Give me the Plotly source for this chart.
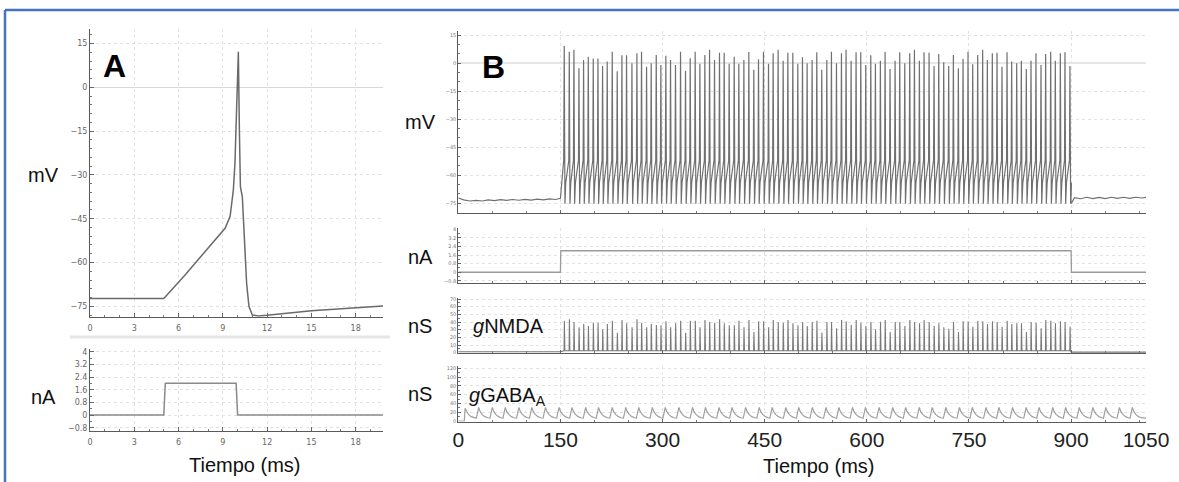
import plotly.graph_objects as go

W, H = 1179, 482

# ---------------- Panel A data ----------------
a_t = [0, 5.0, 6.5, 7.5, 8.5, 9.15, 9.49, 9.71, 9.82, 9.94, 10.05, 10.12, 10.19,
       10.32, 10.5, 10.61, 10.77, 11.0, 11.4, 12.0, 15.0, 18.0, 19.85]
a_v = [-72.3, -72.3, -63.9, -58.0, -52.0, -48.3, -44.3, -35.2, -26.0, -3.2, 12.2, -14.6,
       -34.0, -37.5, -53.4, -67.1, -75.1, -78.0, -78.3, -78.1, -76.5, -75.6, -74.9]
a_i_t = [0, 5.0, 5.1, 9.9, 10.0, 19.85]
a_i = [0, 0, 2, 2, 0, 0]

# ---------------- Panel B data ----------------
pre_t = [0, 8, 17, 26, 35, 44, 53, 62, 71, 80, 89, 98, 107, 116, 125, 134, 143, 150, 154.8]
pre_v = [-72.2, -73.2, -73.8, -73.5, -73.8, -73.2, -73.6, -73.1, -73.5, -73.0, -73.4,
         -72.9, -73.3, -72.8, -73.2, -72.7, -73.0, -72.4, -52.0]

spike_t = [155.6, 163.0, 169.8, 177.2, 184.0, 190.9, 198.2, 205.1, 211.9, 218.7,
           226.1, 233.4, 240.3, 247.1, 255.0, 262.3, 269.1, 276.5, 283.3, 290.7,
           297.5, 304.8, 311.7, 319.0, 326.4, 333.7, 340.6, 347.9, 354.8, 362.1,
           369.0, 376.3, 383.6, 390.5, 397.8, 405.2, 412.0, 419.4, 426.7, 434.0,
           440.9, 448.2, 455.6, 462.4, 469.7, 477.1, 484.0, 491.3, 498.6,
           505.5, 512.3, 519.6, 526.5, 533.8, 541.2, 548.0, 555.4, 562.7, 569.5,
           576.9, 584.2, 591.1, 598.4, 605.8, 612.6, 619.9, 626.8, 634.1, 641.5,
           648.3, 655.7, 663.0, 669.9, 677.2, 684.0, 691.4, 698.7, 705.6, 712.9,
           720.2, 727.1, 734.4, 741.3, 748.6, 755.5, 762.8, 770.1, 777.0, 784.3,
           791.2, 798.5, 805.9, 812.7, 820.1, 826.9, 834.2, 841.1, 848.4, 855.8,
           862.6, 870.0, 876.8, 884.2, 891.0, 898.3]
spike_peak = [9.3, 6.2, 7.2, -2.7, 1.8, 3.5, 2.5, 2.5, -1.4, 0.9,
              6.2, -4.3, 4.3, 4.3, 0.0, 5.4, 6.2, -1.8, 0.0, 4.5,
              -0.9, 4.1, 1.8, -0.9, 6.2, -4.0, 2.7, 6.2, -0.3, 4.5,
              7.2, 1.8, 5.7, 5.7, -0.3, 3.5, -0.3, 1.8, 6.1, -3.5,
              2.1, 6.2, -0.3, 5.4, 7.2, 1.3, 5.7, 5.7, -0.3,
              3.2, 0.0, 1.8, 5.9, -3.5, 1.8, 6.2, 0.0, 5.4, 7.2,
              1.4, 5.9, 5.9, -0.9, 4.3, -0.3, 1.4, 6.2, -3.0, 1.4,
              5.9, 0.0, 5.4, 7.2, 1.4, 5.9, 5.7, -1.4, 5.0, 0.5,
              -1.4, 4.5, -2.7, 2.4, 6.2, -0.5, 4.5, 7.2, 1.8, 5.4,
              5.7, -1.8, 5.9, 0.9, 0.0, 1.3, -3.0, 1.3, 5.4, -0.9,
              5.0, 6.2, 1.4, 5.4, 5.9, -1.4]
spike_shape_dt = [-0.7, 0.0, 1.0, 2.2]          # threshold, peak, trough, AHP
spike_shape_v = [-52.0, None, -75.3, -64.0]

post_t = [899.6, 902, 905, 914, 923, 932, 941, 950, 959, 968, 977, 986, 995, 1004, 1010]
post_v = [-75.3, -74.0, -72.0, -72.6, -71.8, -72.5, -71.9, -72.5, -71.8, -72.4, -71.8,
          -72.4, -71.8, -72.2, -71.9]

b_i_t = [0, 150, 150.5, 900, 900.5, 1010]
b_i = [0, 0, 2, 2, 0, 0]

nmda_peak = [41.7, 43.5, 40.0, 33.0, 37.4, 34.8, 39.1, 39.1, 30.4, 37.4,
             41.7, 26.1, 42.6, 38.3, 33.0, 43.5, 39.1, 33.0, 37.4, 36.1,
             35.7, 40.9, 33.0, 38.3, 41.7, 26.1, 41.7, 41.7, 33.0, 42.6,
             40.0, 39.1, 43.5, 38.3, 35.7, 35.7, 41.7, 33.0, 42.6, 27.0,
             40.9, 40.9, 33.0, 42.6, 40.0, 39.1, 42.6, 38.3, 35.7,
             40.0, 34.8, 40.0, 41.7, 26.1, 40.0, 40.0, 31.7, 42.6, 40.9,
             36.5, 42.6, 39.1, 34.8, 40.0, 30.4, 40.4, 42.6, 27.0, 40.0,
             40.0, 34.8, 42.6, 40.0, 38.3, 42.6, 40.0, 34.8, 38.3, 33.0,
             31.3, 40.0, 27.0, 40.9, 40.9, 33.9, 41.7, 40.9, 37.4, 40.9,
             40.0, 33.9, 41.7, 37.4, 38.3, 38.3, 27.0, 40.0, 39.1, 31.7,
             42.6, 41.7, 38.3, 40.9, 40.0, 33.9]
nmda_pre_t = [0, 150]
nmda_pre_v = [1.2, 1.2]
nmda_base = 2.5
nmda_post_t = [899.5, 902, 1010]
nmda_post_v = [1.5, 0.8, 0.8]

gaba_t = [10, 30, 50, 69, 89, 108, 128, 148, 167, 187, 206, 226, 246, 265, 285, 304, 324,
          344, 363, 383, 402, 422, 442, 461, 481, 500, 520, 540, 559, 579, 598, 618, 638,
          657, 677, 696, 716, 736, 755, 775, 794, 814, 834, 853, 873, 892, 912, 932, 951,
          971, 990]
gaba_peak = [29, 31, 31, 31, 31, 31, 31, 31, 31, 31, 31, 31, 31, 31, 31, 31, 31,
             31, 31, 31, 31, 31, 31, 31, 31, 31, 31, 31, 31, 31, 31, 31, 31,
             31, 31, 31, 31, 31, 31, 31, 31, 31, 31, 31, 31, 31, 31, 31, 31,
             31, 31]
gaba_trough = 6.5
gaba_decay_dt = [2, 5, 9, 13]
gaba_decay_v = [22, 15, 10, 7.5]

b_tick_labels = ["0", "150", "300", "450", "600", "750", "900", "1050"]
b_tick_pos = [0, 150, 300, 450, 600, 750, 900, 1010]

# ---------------- build line vertices ----------------
bx, by = list(pre_t), list(pre_v)
for t, p in zip(spike_t, spike_peak):
    for dt, v in zip(spike_shape_dt, spike_shape_v):
        bx.append(t + dt)
        by.append(p if v is None else v)
bx += post_t
by += post_v

nx, ny = list(nmda_pre_t), list(nmda_pre_v)
for t, h in zip(spike_t, nmda_peak):
    nx += [t - 0.3, t + 0.2, t + 0.9]
    ny += [nmda_base, h, nmda_base]
nx += nmda_post_t
ny += nmda_post_v

gx, gy = [0], [0]
for k, (t, p) in enumerate(zip(gaba_t, gaba_peak)):
    if k == 0:
        gx += [t - 1.2]
        gy += [0]
    else:
        gx += [t - 3.5]
        gy += [gaba_trough]
    gx.append(t)
    gy.append(p)
    for dt, v in zip(gaba_decay_dt, gaba_decay_v):
        gx.append(t + dt)
        gy.append(v)
gx.append(1010)
gy.append(gaba_trough)

# ---------------- figure ----------------
fig = go.Figure()
fig.add_trace(go.Scatter(x=a_t, y=a_v, mode="lines", line=dict(color="#6a6a6a", width=1.5),
                         xaxis="x", yaxis="y", hoverinfo="skip"))
fig.add_trace(go.Scatter(x=a_i_t, y=a_i, mode="lines", line=dict(color="#8a8a8a", width=1.5),
                         xaxis="x2", yaxis="y2", hoverinfo="skip"))
fig.add_trace(go.Scatter(x=bx, y=by, mode="lines", line=dict(color="#707070", width=1.2),
                         xaxis="x3", yaxis="y3", hoverinfo="skip"))
fig.add_trace(go.Scatter(x=b_i_t, y=b_i, mode="lines", line=dict(color="#9a9a9a", width=1.3),
                         xaxis="x4", yaxis="y4", hoverinfo="skip"))
fig.add_trace(go.Scatter(x=nx, y=ny, mode="lines", line=dict(color="#7a7a7a", width=1.1),
                         xaxis="x5", yaxis="y5", hoverinfo="skip"))
fig.add_trace(go.Scatter(x=gx, y=gy, mode="lines", line=dict(color="#a0a0a0", width=1.2),
                         xaxis="x6", yaxis="y6", hoverinfo="skip"))
# same GABA series, invisible, carried by the overlay axis that holds the big time labels
fig.add_trace(go.Scatter(x=gx, y=gy, mode="lines", line=dict(color="rgba(0,0,0,0)", width=0),
                         xaxis="x7", yaxis="y6", hoverinfo="skip"))


def px(x):
    return x / W


def py(y):
    return 1 - y / H


grid = dict(showgrid=True, gridcolor="#e2e2e2", griddash="dot", gridwidth=1)
axline = dict(showline=True, linecolor="#5a5a5a", linewidth=1, zeroline=False)

a_tick = dict(size=8, color="#666666", family="DejaVu Sans")
b_tick = dict(size=5, color="#777777", family="DejaVu Sans")

ax_a = dict(domain=[px(90), px(383)], range=[0, 19.85], tick0=0, dtick=3,
            ticks="inside", ticklen=4, tickcolor="#666", tickfont=a_tick,
            ticklabelstandoff=4,
            minor=dict(dtick=1, ticks="inside", ticklen=2, tickcolor="#777"),
            **grid, **axline)

layout = dict(
    width=W, height=H, margin=dict(l=0, r=0, t=0, b=0, autoexpand=False),
    paper_bgcolor="white", plot_bgcolor="white", showlegend=False,
    xaxis=dict(anchor="y", **ax_a),
    yaxis=dict(domain=[py(316.7), py(29)], range=[-78.56, 19.97], tick0=0, dtick=15,
               ticks="inside", ticklen=4, tickcolor="#666", tickfont=a_tick,
               minor=dict(dtick=3, ticks="inside", ticklen=2, tickcolor="#777"),
               showgrid=True, gridcolor="#e2e2e2", griddash="dot",
               showline=True, linecolor="#5a5a5a", linewidth=1,
               zeroline=True, zerolinecolor="#d8d8d8", zerolinewidth=1, anchor="x"),
    xaxis2=dict(anchor="y2", **ax_a),
    yaxis2=dict(domain=[py(430.7), py(349)], range=[-0.99, 4.17], tick0=0, dtick=0.8,
                ticks="inside", ticklen=4, tickcolor="#666", tickfont=a_tick,
                minor=dict(dtick=0.4, ticks="inside", ticklen=2, tickcolor="#777"),
                anchor="x2", **grid, **axline),
)

bx_common = dict(domain=[px(458.3), px(1146)], range=[0, 1010], tick0=0, dtick=150,
                 ticks="inside", ticklen=3, tickcolor="#666", showticklabels=False,
                 minor=dict(dtick=50, ticks="inside", ticklen=2, tickcolor="#777"),
                 **grid, **axline)
b_y = [
    (3, [py(213.3), py(31)], [-80.4, 17.3], 15, 5),
    (4, [py(282.7), py(228.3)], [-0.97, 4.09], 0.8, 0.4),
    (5, [py(353), py(297.7)], [-0.4, 71.7], 10, 5),
    (6, [py(421.5), py(366)], [-1.1, 125.3], 20, 10),
]
for n, dom, rng, dt, mdt in b_y:
    layout["xaxis%d" % n] = dict(anchor="y%d" % n, **bx_common)
    ydict = dict(domain=dom, range=rng, tick0=0, dtick=dt, anchor="x%d" % n,
                 ticks="inside", ticklen=3, tickcolor="#666", tickfont=b_tick,
                 minor=dict(dtick=mdt, ticks="inside", ticklen=1.5, tickcolor="#777"),
                 **grid, **axline)
    if n == 3:
        ydict["zeroline"] = True
        ydict["zerolinecolor"] = "#e6e6e6"
    layout["yaxis%d" % n] = ydict

layout["xaxis7"] = dict(overlaying="x6", anchor="y6", side="bottom", range=[0, 1010],
                        domain=[px(458.3), px(1146)],
                        tickmode="array", tickvals=b_tick_pos, ticktext=b_tick_labels,
                        tickfont=dict(size=21, color="#222", family="Liberation Sans"),
                        showline=False, showgrid=False, zeroline=False, ticks="",
                        ticklabelstandoff=3)

fig.update_layout(**layout)

lab = dict(family="Liberation Sans", size=20, color="#111")
ann = [
    (43.5, 175, "mV"), (43.5, 397, "nA"),
    (420, 122, "mV"), (420, 257, "nA"), (420, 326, "nS"), (420, 394, "nS"),
    (244.5, 465, "Tiempo (ms)"), (818, 466, "Tiempo (ms)"),
]
for x, y, t in ann:
    fig.add_annotation(x=px(x), y=py(y), xref="paper", yref="paper", text=t,
                       showarrow=False, font=lab, xanchor="center", yanchor="middle")
fig.add_annotation(x=px(114.5), y=py(66), xref="paper", yref="paper", text="<b>A</b>",
                   showarrow=False, font=dict(family="Liberation Sans", size=32, color="black"),
                   xanchor="center", yanchor="middle")
fig.add_annotation(x=px(493), y=py(67), xref="paper", yref="paper", text="<b>B</b>",
                   showarrow=False, font=dict(family="Liberation Sans", size=32, color="black"),
                   xanchor="center", yanchor="middle")
fig.add_annotation(x=px(471), y=py(326), xref="paper", yref="paper", text="<i>g</i>NMDA",
                   showarrow=False, font=lab, xanchor="left", yanchor="middle")
fig.add_annotation(x=px(466.5), y=py(396), xref="paper", yref="paper",
                   text="<i>g</i>GABA<sub>A</sub>",
                   showarrow=False, font=lab, xanchor="left", yanchor="middle")

# frame and separator
fig.add_shape(type="line", xref="paper", yref="paper", x0=px(5), x1=1, y0=py(10), y1=py(10),
              line=dict(color="#4472C4", width=2.5))
fig.add_shape(type="line", xref="paper", yref="paper", x0=px(5), x1=px(5), y0=py(10), y1=0,
              line=dict(color="#4472C4", width=2.5))
fig.add_shape(type="rect", xref="paper", yref="paper", x0=px(70), x1=px(390),
              y0=py(338.5), y1=py(335.5), fillcolor="#e6e6e6", line=dict(width=0))

fig.write_html(
    "out.html",
    config={"responsive": False, "displayModeBar": False},
    post_script=("document.documentElement.style.margin='0';"
                 "document.body.style.margin='0';"
                 "document.body.style.overflow='hidden';"),
)
